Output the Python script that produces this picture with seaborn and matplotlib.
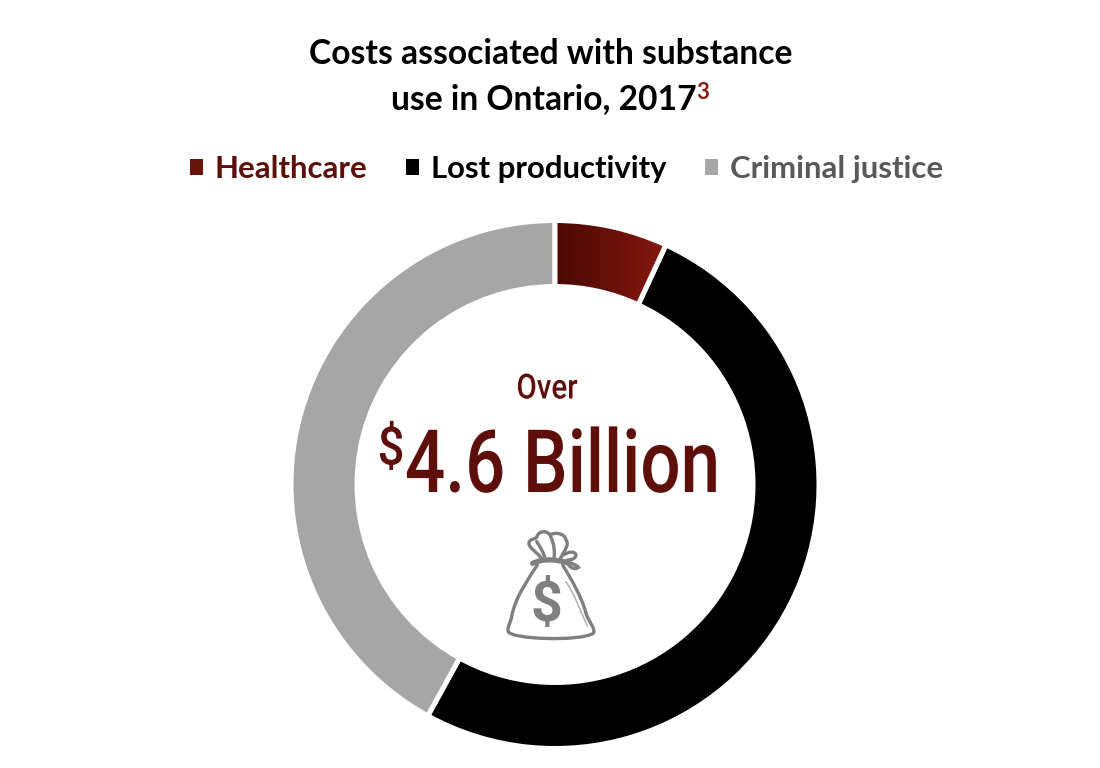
"""Donut chart of substance use costs in Ontario, 2017."""

import matplotlib

matplotlib.use("Agg")
import matplotlib.patheffects as pe
import matplotlib.pyplot as plt
import numpy as np
import seaborn as sns
from matplotlib.colors import LinearSegmentedColormap
from matplotlib.patches import Patch, PathPatch
from matplotlib.path import Path
from matplotlib.transforms import Affine2D

categories = ["Healthcare", "Lost productivity", "Criminal justice"]
shares = [6.9, 51.1, 42.0]
slice_colors = ["#6a120c", "#000000", "#a6a6a6"]
label_colors = ["#5e0f0a", "#000000", "#595959"]
title_lines = ["Costs associated with substance", "use in Ontario, 2017"]
center_small = "Over"
center_big = "4.6 Billion"

MAROON = "#5e0f0a"
BAG_GREY = "#7f7f7f"


class Squeeze(pe.AbstractPathEffect):
    """Narrow a text horizontally around its anchor, no condensed font is installed."""

    def __init__(self, center_x, factor):
        super().__init__()
        self.center_x = center_x
        self.factor = factor

    def draw_path(self, renderer, gc, tpath, affine, rgbFace=None):
        squeeze = Affine2D().translate(-self.center_x, 0).scale(self.factor, 1).translate(self.center_x, 0)
        renderer.draw_path(gc, tpath, affine + squeeze, rgbFace)


def py(y):
    """Reference pixel row to axes y."""
    return 768 - y


def draw_bag(ax):
    """Money bag icon, outlined from the 3x crop at (480, 510)."""
    outlines = [
        ("M", 172, 165, "C", 150, 200, 105, 260, 95, 320, "C", 92, 340, 80, 350, 85, 365,
         "C", 95, 388, 300, 395, 340, 370, "C", 348, 355, 325, 335, 318, 310,
         "C", 305, 260, 275, 210, 248, 165),
        ("M", 185, 145, "C", 170, 125, 140, 110, 148, 95, "C", 155, 85, 165, 88, 170, 82,
         "C", 175, 62, 200, 60, 210, 75, "C", 225, 65, 255, 70, 258, 90,
         "C", 270, 105, 250, 125, 240, 148),
        ("M", 170, 95, "C", 180, 110, 190, 125, 195, 145),
        ("M", 212, 80, "C", 222, 100, 225, 125, 222, 145),
        ("M", 250, 135, "C", 265, 125, 285, 122, 288, 135, "C", 288, 145, 275, 150, 262, 150),
        ("M", 262, 155, "C", 275, 160, 290, 165, 295, 172, "C", 285, 180, 272, 175, 262, 160),
    ]
    for outline in outlines:
        verts, codes = [], []
        i = 0
        while i < len(outline):
            if outline[i] == "M":
                verts.append(outline[i + 1 : i + 3])
                codes.append(Path.MOVETO)
                i += 3
            else:
                flat = outline[i + 1 : i + 7]
                verts += [flat[0:2], flat[2:4], flat[4:6]]
                codes += [Path.CURVE4] * 3
                i += 7
        pts = [(480 + x / 3, py(510 + y / 3)) for x, y in verts]
        ax.add_patch(PathPatch(Path(pts, codes), fill=False, ec=BAG_GREY, lw=2.4, capstyle="round"))
    fold = Path(
        [(480 + x / 3, py(510 + y / 3)) for x, y in [(258, 215), (285, 255), (300, 300), (322, 348)]],
        [Path.MOVETO] + [Path.CURVE4] * 3,
    )
    ax.add_patch(PathPatch(fold, fill=False, ec="#b5b5b5", lw=1.2, capstyle="round"))
    band = Path(
        [(480 + x / 3, py(510 + y / 3)) for x, y in [(158, 160), (190, 145), (230, 148), (262, 158)]],
        [Path.MOVETO] + [Path.CURVE4] * 3,
    )
    ax.add_patch(PathPatch(band, fill=False, ec=BAG_GREY, lw=3.8, capstyle="round"))
    ax.text(546.5, py(606), "$", color=BAG_GREY, fontsize=40, fontweight="bold",
            family="Roboto", ha="center", va="center")


sns.set_theme(style="white")
plt.rcParams["font.family"] = ["Lato", "DejaVu Sans"]

fig = plt.figure(figsize=(11, 7.68), dpi=100)
ax = fig.add_axes([0, 0, 1, 1])

wedges, _ = ax.pie(
    shares,
    colors=slice_colors,
    startangle=90,
    counterclock=False,
    center=(555, py(484.5)),
    radius=264,
    wedgeprops={"width": 66, "edgecolor": "white", "linewidth": 3.6},
    frame=True,
)
ax.set_xlim(0, 1100)
ax.set_ylim(0, 768)
ax.set_aspect("equal")
ax.axis("off")

# first slice carries a left to right gradient, so the wedge only keeps its white edge
first = wedges[0]
box = first.get_path().get_extents(first.get_patch_transform())
ramp = LinearSegmentedColormap.from_list("ramp", ["#4c0904", "#86180f"])
image = ax.imshow(
    np.linspace(0, 1, 256).reshape(1, -1),
    cmap=ramp,
    extent=(box.x0, box.x1, box.y0, box.y1),
    aspect="auto",
    zorder=first.get_zorder(),
)
image.set_clip_path(first)
first.set_facecolor("none")
first.set_zorder(first.get_zorder() + 1)
ax.set_xlim(0, 1100)
ax.set_ylim(0, 768)

ax.text(551, py(54), title_lines[0], fontsize=24.2, fontweight="bold", color="black",
        ha="center", va="center")
line2 = ax.text(543.5, py(99), title_lines[1], fontsize=24.2, fontweight="bold", color="black",
                ha="center", va="center")
ax.annotate("3", xy=(1, 1), xycoords=line2, xytext=(0, 1), textcoords="offset points",
            fontsize=16, fontweight="bold", color="#8a1c14", ha="left", va="top")

handles = [Patch(facecolor=c, edgecolor="none") for c in slice_colors]
ax.legend(
    handles,
    categories,
    loc="center",
    bbox_to_anchor=(566.5 / 1100, 1 - 169 / 768),
    ncols=3,
    frameon=False,
    labelcolor=label_colors,
    prop={"weight": "bold", "size": 22.4},
    handlelength=0.42,
    handleheight=0.42,
    handletextpad=0.38,
    columnspacing=1.24,
)

ax.text(547, py(389), center_small, color=MAROON, fontsize=25, fontweight="medium",
        family="Roboto", ha="center", va="center", path_effects=[Squeeze(547, 0.85)])
ax.text(405, py(468), center_big, color=MAROON, fontsize=63, fontweight="medium",
        family="Roboto", ha="left", va="center", path_effects=[Squeeze(405, 0.81)])
ax.text(391, py(450), "$", color=MAROON, fontsize=38, fontweight="medium",
        family="Roboto", ha="center", va="center", path_effects=[Squeeze(391, 0.9)])

draw_bag(ax)

fig.savefig("out.png", dpi=100, facecolor="white")
